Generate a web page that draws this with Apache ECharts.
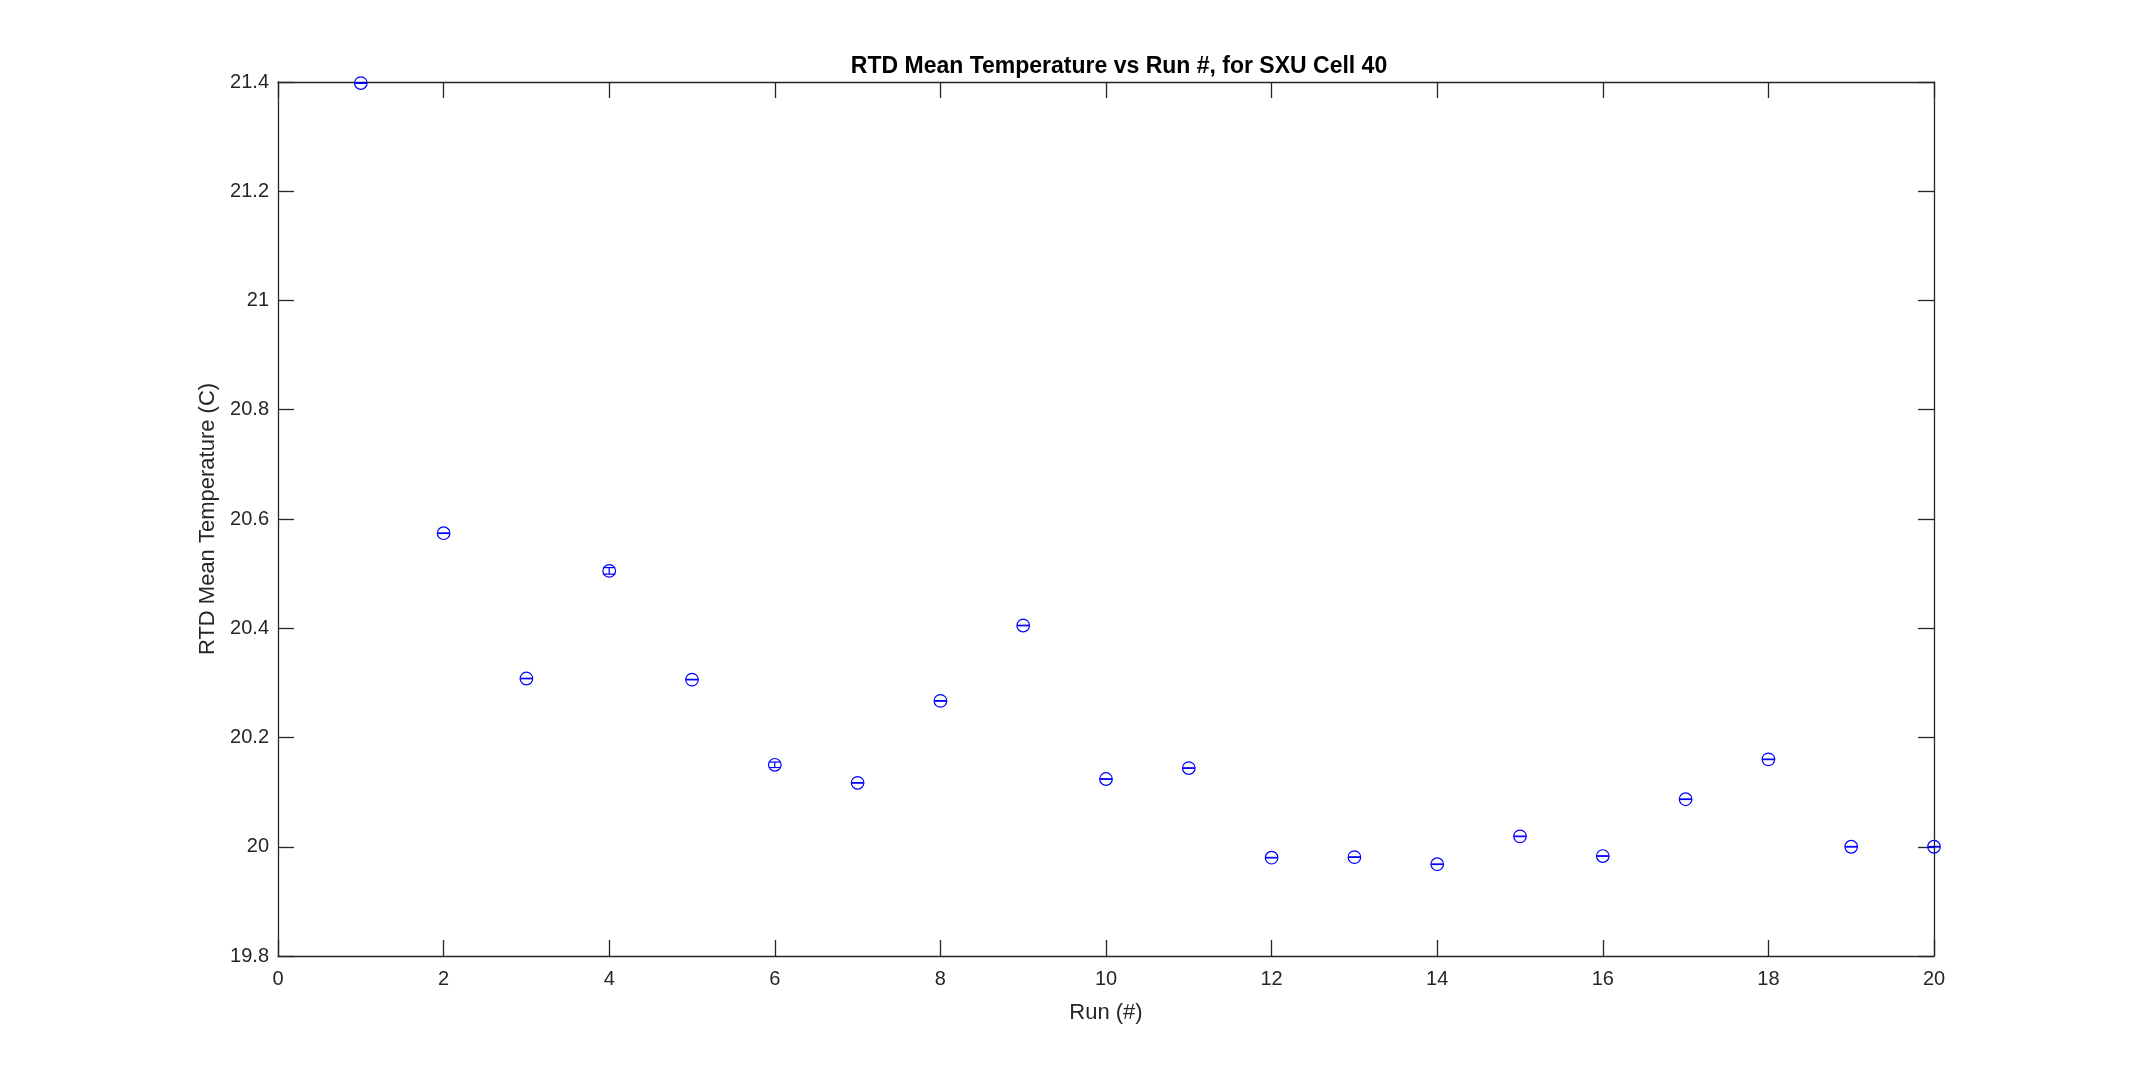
<!DOCTYPE html>
<html>
<head>
<meta charset="utf-8">
<script src="https://cdn.jsdelivr.net/npm/echarts@6/dist/echarts.min.js"></script>
<style>
html,body{margin:0;padding:0;background:#fff;}
#chart{width:2138px;height:1075px;}
</style>
</head>
<body>
<div id="chart"></div>
<script>
// Data
const runs = [1,2,3,4,5,6,7,8,9,10,11,12,13,14,15,16,17,18,19,20];
const meanTemp = [21.398,20.574,20.308,20.505,20.306,20.150,20.117,20.267,20.405,20.124,20.144,19.980,19.981,19.968,20.019,19.983,20.087,20.160,20.000,20.000];
const tempErr = [0.0005,0.0005,0.0005,0.006,0.0005,0.005,0.0005,0.0005,0.0005,0.0005,0.0005,0.0005,0.0005,0.0005,0.0005,0.0005,0.0005,0.0005,0.0005,0.0005];
const xTicks = [0,2,4,6,8,10,12,14,16,18,20];
const yTicks = [19.8,20,20.2,20.4,20.6,20.8,21,21.2,21.4];

const blue = '#0000FF';
const txt = '#262626';
const axisLine = '#262626';
const fontFam = 'Liberation Sans, Arial, Helvetica, sans-serif';

const pts = runs.map((r,i)=>[r, meanTemp[i], tempErr[i]]);

const chart = echarts.init(document.getElementById('chart'), null, {renderer:'canvas'});

function renderErr(params, api){
  const x = api.value(0), y = api.value(1), e = api.value(2);
  const c = api.coord([x,y]);
  const lo = api.coord([x,y-e]);
  const hi = api.coord([x,y+e]);
  const cap = 6;
  const st = {stroke: blue, lineWidth: 1.2, fill: null};
  return {
    type:'group',
    children:[
      {type:'line', shape:{x1:c[0],y1:lo[1],x2:c[0],y2:hi[1]}, style:st},
      {type:'line', shape:{x1:c[0]-cap,y1:lo[1],x2:c[0]+cap,y2:lo[1]}, style:st},
      {type:'line', shape:{x1:c[0]-cap,y1:hi[1],x2:c[0]+cap,y2:hi[1]}, style:st},
      {type:'circle', shape:{cx:c[0],cy:c[1],r:6.3}, style:{stroke: blue, lineWidth:1.2, fill:null}}
    ]
  };
}

function axisCommon(){
  return {
    axisLine:{show:true, onZero:false, lineStyle:{color:axisLine, width:1.3}},
    axisTick:{show:true, inside:true, length:16, lineStyle:{color:axisLine, width:1.3}},
    splitLine:{show:false}
  };
}

chart.setOption({
  backgroundColor:'#ffffff',
  animation:false,
  title:{
    text:'RTD Mean Temperature vs Run #, for SXU Cell 40',
    left:1114, top:50, textAlign:'center',
    textStyle:{fontFamily:fontFam, fontWeight:'bold', fontSize:23, color:'#000'}
  },
  grid:{left:278, right:204, top:82, bottom:119, containLabel:false},
  xAxis:[
    Object.assign({
      type:'value', min:0, max:20, interval:2, position:'bottom',
      name:'Run (#)', nameLocation:'middle', nameGap:46,
      nameTextStyle:{fontFamily:fontFam, fontSize:22, color:txt},
      axisLabel:{fontFamily:fontFam, fontSize:20, color:txt, margin:13}
    }, axisCommon()),
    Object.assign({
      type:'value', min:0, max:20, interval:2, position:'top',
      axisLabel:{show:false}
    }, axisCommon())
  ],
  yAxis:[
    Object.assign({
      type:'value', min:19.8, max:21.4, interval:0.2, position:'left',
      name:'RTD Mean Temperature (C)', nameLocation:'middle', nameGap:56,
      nameTextStyle:{fontFamily:fontFam, fontSize:22, color:txt},
      axisLabel:{fontFamily:fontFam, fontSize:20, color:txt, margin:9,
        formatter:(v)=>{ const r = Math.round(v*10)/10; return (Math.abs(r-Math.round(r))<1e-9)? String(Math.round(r)) : r.toFixed(1); }}
    }, axisCommon()),
    Object.assign({
      type:'value', min:19.8, max:21.4, interval:0.2, position:'right',
      axisLabel:{show:false}
    }, axisCommon())
  ],
  series:[{
    type:'custom',
    xAxisIndex:0, yAxisIndex:0,
    renderItem: renderErr,
    data: pts,
    clip:false,
    encode:{x:0, y:1}
  }]
});
</script>
</body>
</html>
